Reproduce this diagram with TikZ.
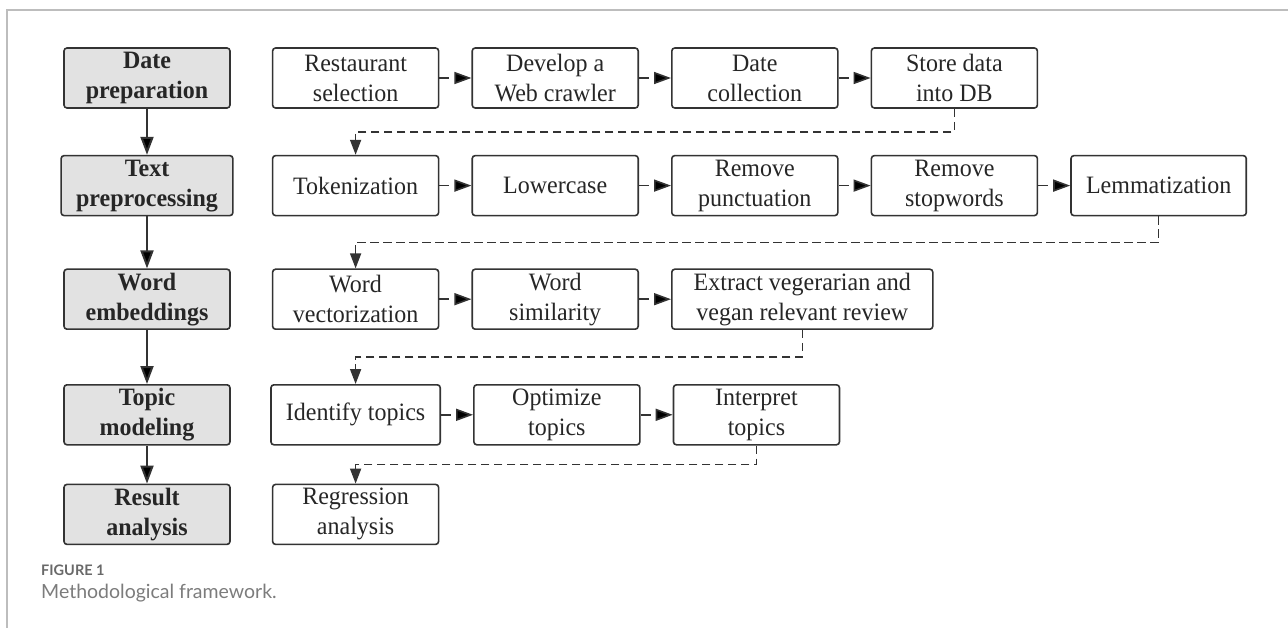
\documentclass[tikz,border=0pt]{standalone}
\usepackage{fontspec}
\setmainfont{Liberation Serif}[FakeStretch=0.96]
\newfontfamily\capfont{Lato}
\usetikzlibrary{arrows.meta,positioning,calc}
\definecolor{boxline}{HTML}{333333}
\definecolor{stagefill}{HTML}{E2E2E2}
\definecolor{framegray}{HTML}{BDBDBD}
\definecolor{capgray}{HTML}{7C7C7C}

\begin{document}
\begin{tikzpicture}[x=1pt,y=-1pt,node distance=32pt,
  font=\fontsize{25}{30}\selectfont,
  task node/.style={rectangle,rounded corners=3pt,draw=boxline,line width=1.6pt,
  text=black!85,align=center,minimum width=166pt,minimum height=60pt,
  inner xsep=15pt,inner ysep=2pt},
  stage node/.style={task node,fill=stagefill,
  font=\fontsize{25}{30}\selectfont\bfseries},
  flow/.style={-{Triangle[length=18pt,width=13pt]},line width=2pt,draw=boxline},
  next/.style={-{Triangle[length=17pt,width=12pt]},line width=1.6pt,
  draw=boxline,dash pattern=on 10pt off 7pt},
  jump/.style={-{Triangle[length=15pt,width=11pt]},line width=1.6pt,
  draw=boxline,dash pattern=on 8.5pt off 4.5pt}]

  \useasboundingbox (0,0) rectangle (1288,628);
  % page frame
  \draw[framegray,line width=1.5pt] (1288,10) -- (7,10) -- (7,628);

  % stages
  \node[stage node] (DP) at (147,78) {Date\\preparation};
  \node[stage node] (TP) [below=46pt of DP] {Text\\preprocessing};
  \node[stage node] (WE) [below=52pt of TP] {Word\\embeddings};
  \node[stage node] (TM) [below=54pt of WE] {Topic\\modeling};
  \node[stage node] (RA) [below=38pt of TM] {Result\\analysis};

  % tasks, one row per stage
  \node[task node] (RS) [right=41pt of DP] {Restaurant\\selection};
  \node[task node] (DW) [right=of RS] {Develop a\\Web crawler};
  \node[task node] (DC) [right=of DW] {Date\\collection};
  \node[task node] (SD) [right=of DC] {Store data\\into DB};

  \node[task node] (TK) [below=46pt of RS] {Tokenization};
  \node[task node] (LC) [right=of TK] {Lowercase};
  \node[task node] (RP) [right=of LC] {Remove\\punctuation};
  \node[task node] (RW) [right=of RP] {Remove\\stopwords};
  \node[task node] (LM) [right=of RW] {Lemmatization};

  \node[task node] (WV) [below=52pt of TK] {Word\\vectorization};
  \node[task node] (WS) [right=of WV] {Word\\similarity};
  \node[task node, minimum width=261pt] (EX) [right=of WS]
    {Extract vegerarian and\\vegan relevant review};

  \node[task node] (IT) [below=54pt of WV] {Identify topics};
  \node[task node] (OT) [right=of IT] {Optimize\\topics};
  \node[task node] (IN) [right=of OT] {Interpret\\topics};

  \node[task node] (RG) [below=38pt of IT] {Regression\\analysis};

  % stage to stage
  \path[flow] (DP) edge (TP) (TP) edge (WE) (WE) edge (TM) (TM) edge (RA);

  % task to task
  \path[next]
    (RS) edge (DW) (DW) edge (DC) (DC) edge (SD)
    (TK) edge (LC) (LC) edge (RP) (RP) edge (RW) (RW) edge (LM)
    (WV) edge (WS) (WS) edge (EX)
    (IT) edge (OT) (OT) edge (IN);

  % end of a row to start of the next one
  \draw[jump] (SD.south) |- ($(SD.south)!0.5!(TK.north)$) -| (TK.north);
  \draw[jump] (LM.south) |- ($(LM.south)!0.5!(WV.north)$) -| (WV.north);
  \draw[jump] (EX.south) |- ($(EX.south)!0.5!(IT.north)$) -| (IT.north);
  \draw[jump] (IN.south) |- ($(IN.south)!0.5!(RG.north)$) -| (RG.north);

  % caption
  \node[anchor=base west,inner sep=0pt,text=capgray!85!black,
    font=\capfont\bfseries\fontsize{14.5}{17}\selectfont] (FIG) at (41,575) {FIGURE 1};
  \node[anchor=base west,inner sep=0pt,text=capgray,
    font=\capfont\fontsize{19.5}{22}\selectfont] (CAP) at (41,598) {Methodological framework.};
\end{tikzpicture}
\end{document}
